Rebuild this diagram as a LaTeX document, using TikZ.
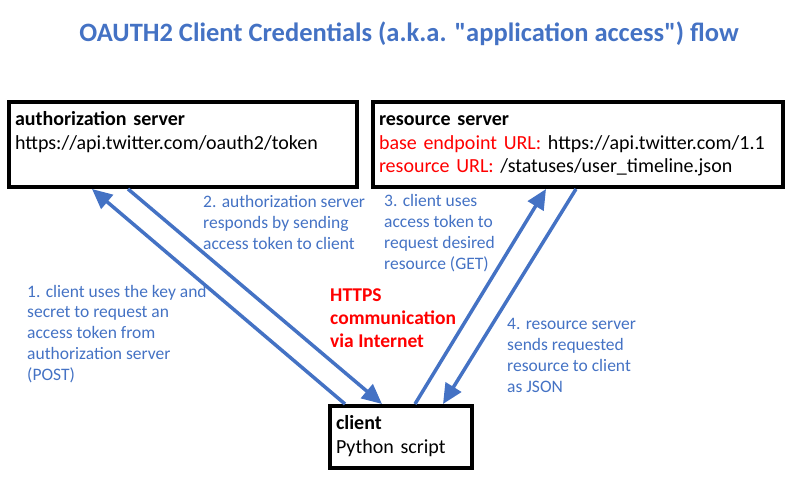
\documentclass[tikz,border=0pt]{standalone}
\usepackage{fontspec}
\setmainfont{Carlito}[Ligatures=TeXOff]
\usepackage{xcolor}
\usetikzlibrary{arrows.meta,positioning}
\definecolor{flowblue}{RGB}{68,114,196}
\definecolor{netred}{RGB}{255,0,0}
\tikzset{>=Stealth}

\begin{document}
\begin{tikzpicture}[x=1pt,y=-1pt,
    server/.style={draw,line width=4pt,rectangle,anchor=north west,align=left,
        inner xsep=6pt,inner ysep=4pt,font=\fontsize{20}{23.5}\selectfont},
    note/.style={anchor=base west,align=left,inner sep=0pt,text=flowblue,
        font=\fontsize{17.5}{20.7}\selectfont},
    flow/.style={-{Triangle[length=20pt,width=18pt]},line width=3.5pt,draw=flowblue}]
    \useasboundingbox (0,0) rectangle (792,487);
    \node[anchor=base,text=flowblue,font=\fontsize{26.5}{31}\selectfont\bfseries] at (409,42) (title)
        {OAUTH2 Client Credentials (a.k.a. "application access") flow};
    \node[server,minimum width=348pt,minimum height=85pt,text width=336pt] at (7,100) (authsrv)
        {\strut\textbf{authorization server}\\ https://api.twitter.com/oauth2/token\\ \strut};
    \node[server,minimum width=410pt,minimum height=85pt,text width=398pt] at (371,100) (ressrv)
        {\strut\textbf{resource server}\\
        {\color{netred}base endpoint URL:} https://api.twitter.com/1.1\\
        \strut{\color{netred}resource URL:} /statuses/user\_timeline.json};
    \node[server,minimum width=142pt,minimum height=62pt,text width=130pt] at (328,404) (client)
        {\strut\textbf{client}\\ \strut Python script};
    % step labels, placed at the baseline of their last line
    \node[note] at (27,380) (step1) {1. client uses the key and\\ secret to request an\\ access token from\\ authorization server\\ (POST)};
    \node[note] at (203,249) (step2) {2. authorization server\\ responds by sending\\ access token to client};
    \node[note] at (384,269) (step3) {3. client uses\\ access token to\\ request desired\\ resource (GET)};
    \node[note] at (507,392) (step4) {4. resource server\\ sends requested\\ resource to client\\ as JSON};
    \node[anchor=base west,align=left,inner sep=0pt,text=netred,font=\fontsize{19.5}{23}\selectfont\bfseries]
        at (330,347) (https) {HTTPS\\ communication\\ via Internet};
    \draw[flow] ([xshift=17pt]client.north west) -- ([xshift=85pt]authsrv.south west);
    \draw[flow] ([xshift=121pt]authsrv.south west) -- ([xshift=54pt]client.north west);
    \draw[flow] ([xshift=87pt]client.north west) -- ([xshift=175pt]ressrv.south west);
    \draw[flow] ([xshift=205pt]ressrv.south west) -- ([xshift=115pt]client.north west);
\end{tikzpicture}
\end{document}
